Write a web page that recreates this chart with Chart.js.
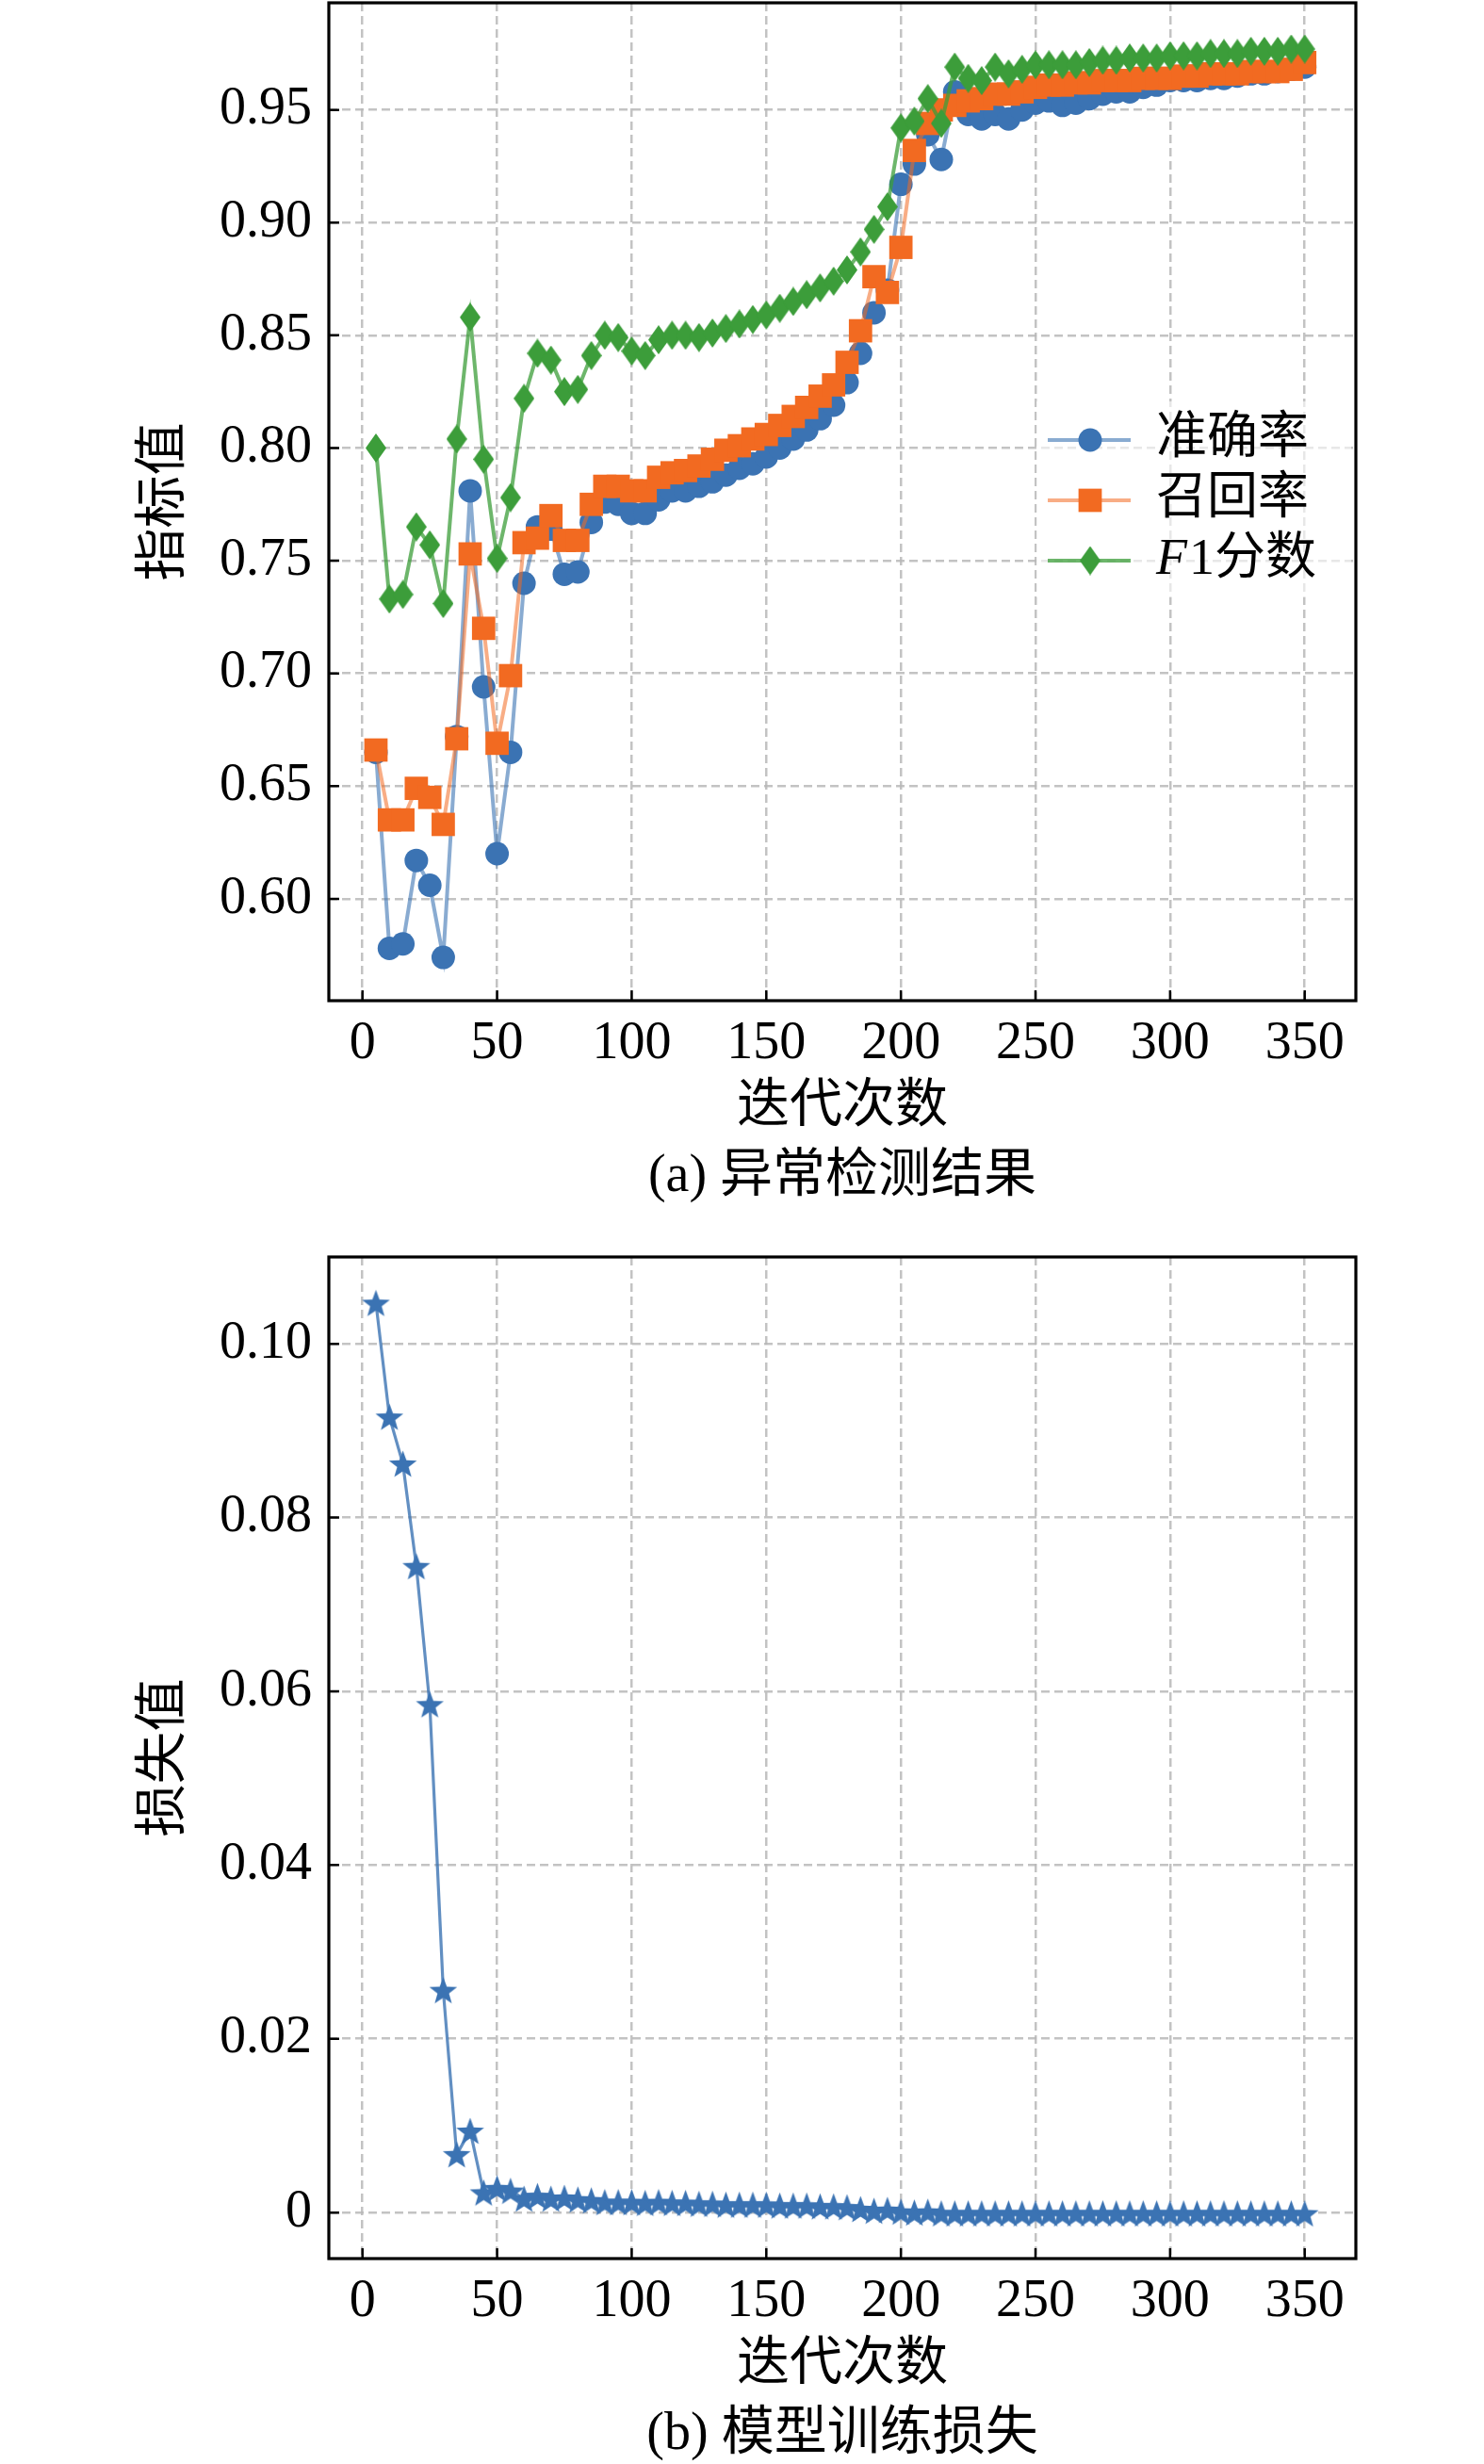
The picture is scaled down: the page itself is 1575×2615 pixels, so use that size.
<!DOCTYPE html>
<html>
<head>
<meta charset="utf-8">
<script src="https://cdn.jsdelivr.net/npm/chart.js@4.4.1/dist/chart.umd.min.js"></script>
<style>
html, body { margin: 0; padding: 0; background: #ffffff; }
#wrap { position: relative; width: 1575px; height: 2615px; background: #fff; }
canvas { position: absolute; left: 0; }
#cA { top: 0; }
#cB { top: 1300px; }
</style>
</head>
<body>
<div id="wrap">
  <canvas id="cA" width="1575" height="1300"></canvas>
  <canvas id="cB" width="1575" height="1315"></canvas>
</div>
<script>
// ---------------- data ----------------
const iterations = [5,10,15,20,25,30,35,40,45,50,55,60,65,70,75,80,85,90,95,100,
  105,110,115,120,125,130,135,140,145,150,155,160,165,170,175,180,185,190,195,200,
  205,210,215,220,225,230,235,240,245,250,255,260,265,270,275,280,285,290,295,300,
  305,310,315,320,325,330,335,340,345,350];

const accuracy = [0.665,0.578,0.580,0.617,0.606,0.574,0.672,0.781,0.694,0.620,
  0.665,0.740,0.765,0.764,0.744,0.745,0.767,0.776,0.775,0.771,
  0.771,0.777,0.781,0.781,0.783,0.785,0.788,0.791,0.793,0.796,
  0.800,0.804,0.808,0.813,0.819,0.829,0.842,0.860,0.870,0.917,
  0.926,0.939,0.928,0.958,0.948,0.946,0.948,0.946,0.950,0.953,
  0.954,0.952,0.953,0.955,0.957,0.958,0.958,0.960,0.961,0.963,
  0.963,0.963,0.964,0.964,0.965,0.966,0.966,0.967,0.968,0.969];

const recall = [0.666,0.635,0.635,0.649,0.645,0.633,0.671,0.753,0.720,0.669,
  0.699,0.758,0.760,0.770,0.759,0.759,0.775,0.783,0.783,0.781,
  0.781,0.787,0.789,0.790,0.792,0.795,0.799,0.801,0.804,0.806,
  0.810,0.814,0.818,0.823,0.828,0.838,0.852,0.876,0.869,0.889,
  0.932,0.944,0.950,0.952,0.954,0.955,0.957,0.957,0.958,0.960,
  0.961,0.961,0.962,0.962,0.963,0.963,0.963,0.964,0.964,0.964,
  0.965,0.965,0.966,0.966,0.966,0.967,0.967,0.967,0.968,0.971];

const f1score = [0.800,0.733,0.735,0.765,0.757,0.731,0.804,0.858,0.795,0.751,
  0.778,0.822,0.842,0.839,0.825,0.826,0.841,0.850,0.849,0.843,
  0.841,0.848,0.850,0.850,0.849,0.851,0.853,0.855,0.857,0.859,
  0.862,0.865,0.868,0.871,0.874,0.879,0.887,0.897,0.907,0.942,
  0.945,0.955,0.944,0.969,0.964,0.963,0.969,0.966,0.968,0.970,
  0.970,0.970,0.970,0.971,0.972,0.972,0.973,0.973,0.973,0.974,
  0.974,0.974,0.975,0.975,0.975,0.976,0.976,0.976,0.977,0.977];

const lossValues = [0.1047,0.0916,0.0862,0.0744,0.0585,0.0256,0.0067,0.0094,0.0023,0.0028,
  0.0025,0.0016,0.0019,0.0016,0.0017,0.0015,0.0014,0.0012,0.0012,0.0012,
  0.0011,0.0012,0.0011,0.0011,0.0010,0.0010,0.0009,0.0009,0.0009,0.0009,
  0.0008,0.0008,0.0008,0.0007,0.0007,0.0006,0.0004,0.0002,0.0003,0.0001,
  0.0000,0.0001,-0.0001,-0.0001,-0.0001,-0.0001,-0.0001,-0.0001,-0.0001,-0.0001,
  -0.0001,-0.0001,-0.0001,-0.0001,-0.0001,-0.0001,-0.0001,-0.0001,-0.0001,-0.0001,
  -0.0001,-0.0001,-0.0001,-0.0001,-0.0001,-0.0001,-0.0001,-0.0001,-0.0001,-0.0001];

const seriesNamesA = ['准确率', '召回率', 'F1分数'];
const xTickValues = [0, 50, 100, 150, 200, 250, 300, 350];
const xTickLabels = ['0', '50', '100', '150', '200', '250', '300', '350'];
const yTickValuesA = [0.60, 0.65, 0.70, 0.75, 0.80, 0.85, 0.90, 0.95];
const yTickLabelsA = ['0.60', '0.65', '0.70', '0.75', '0.80', '0.85', '0.90', '0.95'];
const yTickValuesB = [0, 0.02, 0.04, 0.06, 0.08, 0.10];
const yTickLabelsB = ['0', '0.02', '0.04', '0.06', '0.08', '0.10'];
const xTitle = '迭代次数';
const yTitleA = '指标值';
const yTitleB = '损失值';
const captionA = '(a) 异常检测结果';
const captionB = '(b) 模型训练损失';

// ---------------- styles ----------------
const SERIF = '"Liberation Serif", "Times New Roman", "Noto Sans CJK SC", serif';
const BLUE = '#3b73b3', ORANGE = '#f26a21', GREEN = '#3c9d3a';
const BLUE_L = 'rgba(59,115,179,0.6)', ORANGE_L = 'rgba(242,106,33,0.55)', GREEN_L = 'rgba(60,157,58,0.75)';
Chart.defaults.font.family = SERIF;
Chart.defaults.color = '#000';

function makeDiamond(color, w, h) {
  const c = document.createElement('canvas');
  c.width = w; c.height = h;
  const g = c.getContext('2d');
  g.fillStyle = color;
  g.beginPath();
  g.moveTo(w / 2, 0); g.lineTo(w, h / 2); g.lineTo(w / 2, h); g.lineTo(0, h / 2);
  g.closePath(); g.fill();
  return c;
}
function makeStar(color, R, r) {
  const s = Math.ceil(2 * R + 2);
  const c = document.createElement('canvas');
  c.width = s; c.height = s;
  const g = c.getContext('2d');
  g.fillStyle = color;
  g.beginPath();
  for (let i = 0; i < 10; i++) {
    const ang = -Math.PI / 2 + i * Math.PI / 5;
    const rad = i % 2 === 0 ? R : r;
    const px = s / 2 + rad * Math.cos(ang), py = s / 2 + 1.5 + rad * Math.sin(ang);
    if (i === 0) g.moveTo(px, py); else g.lineTo(px, py);
  }
  g.closePath(); g.fill();
  return c;
}
const diamondImg = makeDiamond(GREEN, 22, 31);
const starImg = makeStar(BLUE, 15.5, 6.4);

function pts(values) { return iterations.map((x, i) => ({ x: x, y: values[i] })); }

const frameTicks = {
  id: 'frameTicks',
  afterDatasetsDraw(chart) {
    const { ctx, chartArea: a, scales } = chart;
    const x = scales.x, y = scales.y;
    ctx.save();
    ctx.strokeStyle = '#000';
    ctx.lineWidth = 2.5;
    ctx.setLineDash([]);
    ctx.beginPath();
    x.ticks.forEach(t => { const px = x.getPixelForValue(t.value); ctx.moveTo(px, a.bottom); ctx.lineTo(px, a.bottom - 11); });
    y.ticks.forEach(t => { const py = y.getPixelForValue(t.value); ctx.moveTo(a.left, py); ctx.lineTo(a.left + 11, py); });
    ctx.stroke();
    ctx.lineWidth = 3.2;
    ctx.strokeRect(a.left, a.top, a.right - a.left, a.bottom - a.top);
    ctx.restore();
  }
};

const legendA = {
  id: 'legendA',
  afterDraw(chart) {
    const ctx = chart.ctx;
    const ds = chart.data.datasets;
    ctx.save();
    ctx.fillStyle = 'rgba(255,255,255,0.6)';
    ctx.fillRect(1100, 426, 334, 208);
    const rowY = [467, 531, 595];
    const order = [2, 1, 0]; // dataset index per legend row (blue, orange, green)
    ctx.textBaseline = 'middle';
    for (let r = 0; r < 3; r++) {
      const d = ds[order[r]];
      const yy = rowY[r];
      ctx.strokeStyle = d.borderColor;
      ctx.lineWidth = d.borderWidth;
      ctx.beginPath(); ctx.moveTo(1112, yy); ctx.lineTo(1200, yy); ctx.stroke();
      ctx.fillStyle = d.pointBackgroundColor;
      Chart.helpers.drawPoint(ctx, { pointStyle: d.pointStyle, radius: d.pointRadius, rotation: 0, borderWidth: 0 }, 1157, yy);
      ctx.fillStyle = '#000';
      const name = d.label;
      if (name.charAt(0) === 'F') {
        ctx.font = 'italic 54px ' + SERIF;
        ctx.fillText('F', 1227, yy);
        const w = ctx.measureText('F').width;
        ctx.font = '54px ' + SERIF;
        ctx.fillText(name.slice(1), 1227 + w + 2, yy);
      } else {
        ctx.font = '54px ' + SERIF;
        ctx.fillText(name, 1227, yy);
      }
    }
    ctx.restore();
  }
};

function commonOptions(cfg) {
  return {
    responsive: false,
    animation: false,
    devicePixelRatio: 1,
    events: [],
    layout: { autoPadding: false, padding: { left: 0, right: 136, top: cfg.padTop, bottom: 0 } },
    plugins: {
      legend: { display: false },
      tooltip: { enabled: false },
      title: {
        display: true, position: 'bottom', fullSize: false, text: cfg.caption,
        color: '#000', font: { size: 56, family: SERIF, weight: 'normal', lineHeight: 1.0 },
        padding: { top: 11, bottom: cfg.capBottom }
      }
    },
    scales: {
      x: {
        type: 'linear', min: -12.5, max: 369,
        afterBuildTicks: s => { s.ticks = xTickValues.map(v => ({ value: v })); },
        afterFit: s => { s.height = 148; s.paddingLeft = 0; s.paddingRight = 0; s.paddingTop = 0; s.paddingBottom = 0; },
        ticks: {
          autoSkip: false, maxRotation: 0, padding: 13,
          font: { size: 56, family: SERIF }, color: '#000',
          callback: (v) => { const i = xTickValues.indexOf(v); return i >= 0 ? xTickLabels[i] : ''; }
        },
        grid: { color: 'rgba(185,185,185,0.85)', lineWidth: 2.5, drawTicks: false },
        border: { display: false, dash: [9, 5] },
        title: { display: true, text: xTitle, color: '#000', font: { size: 56, family: SERIF, lineHeight: 1.2 }, padding: { top: 0, bottom: 1 } }
      },
      y: {
        type: 'linear', min: cfg.yMin, max: cfg.yMax,
        afterBuildTicks: s => { s.ticks = cfg.yTicks.map(v => ({ value: v })); },
        afterFit: s => { s.width = 349; s.paddingTop = 0; s.paddingBottom = 0; s.paddingLeft = 0; s.paddingRight = 0; },
        ticks: {
          autoSkip: false, padding: 18,
          font: { size: 56, family: SERIF }, color: '#000',
          callback: (v) => { const i = cfg.yTicks.findIndex(t => Math.abs(t - v) < 1e-9); return i >= 0 ? cfg.yLabels[i] : ''; }
        },
        grid: { color: 'rgba(185,185,185,0.85)', lineWidth: 2.5, drawTicks: false },
        border: { display: false, dash: [9, 5] },
        title: { display: true, text: cfg.yTitle, color: '#000', font: { size: 56, family: SERIF, lineHeight: 1.2 }, padding: { top: 142, bottom: 0 } }
      }
    }
  };
}

new Chart(document.getElementById('cA'), {
  type: 'line',
  data: {
    datasets: [
      { label: seriesNamesA[2], data: pts(f1score), order: 1, borderColor: GREEN_L, borderWidth: 4,
        pointStyle: diamondImg, pointRadius: 15, pointBackgroundColor: GREEN, pointBorderWidth: 0, tension: 0, fill: false },
      { label: seriesNamesA[1], data: pts(recall), order: 2, borderColor: ORANGE_L, borderWidth: 4,
        pointStyle: 'rect', pointRadius: 17.5, pointBackgroundColor: ORANGE, pointBorderWidth: 0, tension: 0, fill: false },
      { label: seriesNamesA[0], data: pts(accuracy), order: 3, borderColor: BLUE_L, borderWidth: 4,
        pointStyle: 'circle', pointRadius: 12.5, pointBackgroundColor: BLUE, pointBorderWidth: 0, tension: 0, fill: false }
    ]
  },
  options: commonOptions({ padTop: 3, caption: captionA, capBottom: 23, yMin: 0.5548, yMax: 0.9975,
    yTicks: yTickValuesA, yLabels: yTickLabelsA, yTitle: yTitleA }),
  plugins: [frameTicks, legendA]
});

new Chart(document.getElementById('cB'), {
  type: 'line',
  data: {
    datasets: [
      { label: '损失值', data: pts(lossValues), borderColor: 'rgba(59,115,179,0.8)', borderWidth: 3.2,
        pointStyle: starImg, pointRadius: 15, pointBackgroundColor: BLUE, pointBorderWidth: 0, tension: 0, fill: false }
    ]
  },
  options: commonOptions({ padTop: 34, caption: captionB, capBottom: 3, yMin: -0.0053, yMax: 0.1100,
    yTicks: yTickValuesB, yLabels: yTickLabelsB, yTitle: yTitleB }),
  plugins: [frameTicks]
});
</script>
</body>
</html>
